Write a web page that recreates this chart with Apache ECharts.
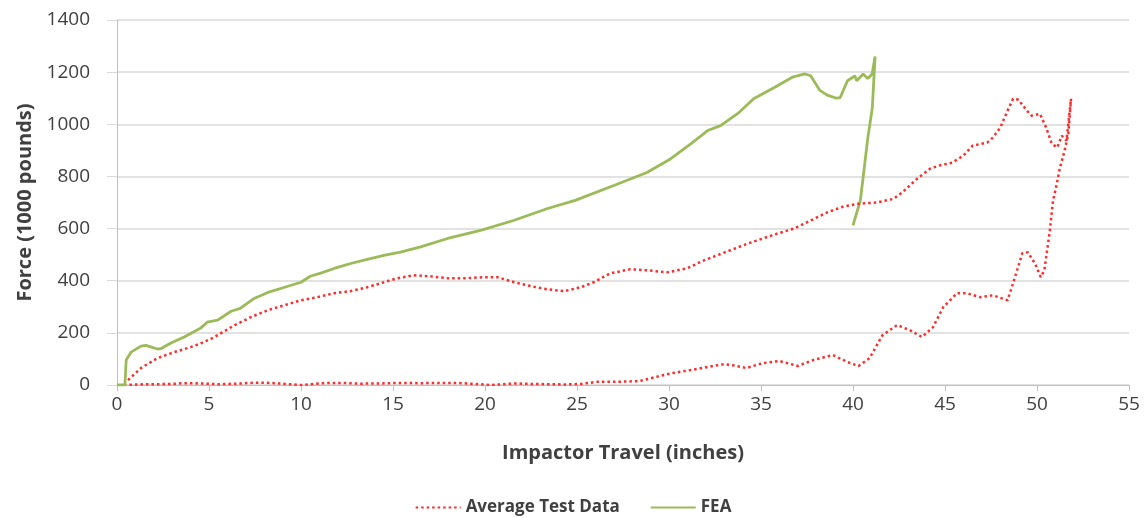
<!DOCTYPE html>
<html>
<head>
<meta charset="utf-8">
<title>Force vs Impactor Travel</title>
<script src="https://cdn.jsdelivr.net/npm/echarts@6/dist/echarts.min.js"></script>
<style>
  html, body { margin: 0; padding: 0; background: #ffffff; }
  #chart { width: 1146px; height: 518px; }
</style>
</head>
<body>
<div id="chart"></div>
<script>
// Axis ranges and tick spacing
const xTicks = { min: 0, max: 55, step: 5 };
const yTicks = { min: 0, max: 1400, step: 200 };

// Average test data: upper branch [inches, kips]
const testUpper = [
  [0.6, 19], [1.3, 65], [2.2, 103], [3.1, 126], [4.0, 145], [4.6, 161], [5.3, 184],
  [6.4, 230], [7.3, 261], [8.2, 287], [9.1, 306], [10, 325], [10.9, 337], [11.8, 352],
  [12.7, 360], [13.6, 375], [14.5, 394], [15.2, 409], [16.1, 421], [17.0, 417],
  [18.0, 409], [18.8, 409], [19.8, 413], [20.7, 413], [21.6, 394], [22.5, 379],
  [23.4, 367], [24.3, 360], [25.2, 375], [25.9, 394], [26.8, 428], [27.9, 444],
  [28.8, 440], [29.9, 432], [31.0, 448], [31.9, 478], [33.3, 516], [34.3, 543],
  [35.1, 562], [35.9, 581], [36.8, 600], [37.7, 631], [38.6, 662], [39.5, 685],
  [40.4, 696], [41.3, 700], [42.2, 714], [42.7, 740], [43.5, 792], [44.2, 830],
  [44.7, 842], [45.4, 853], [46.0, 880], [46.5, 918], [47.3, 930], [47.6, 949],
  [48.0, 987], [48.4, 1052], [48.7, 1098], [49.0, 1094], [49.45, 1052], [49.7, 1033],
  [50.16, 1040], [50.5, 987], [50.8, 926], [51.1, 911], [51.35, 956], [51.6, 937]
];
// Average test data: final steep rise to the peak
const testRise = [
  [50.2, 414], [50.4, 440], [50.7, 593], [50.87, 708], [51.0, 746], [51.25, 834],
  [51.5, 899], [51.7, 964], [51.85, 1098]
];
// Average test data: lower branch
const testLower = [
  [0.5, 0], [1, 2], [2, 3], [3, 4], [3.6, 7], [4.5, 6], [5.5, 3], [6.5, 5], [7.5, 9],
  [8.3, 8], [9.2, 4], [10, 0], [10.8, 5], [11.5, 8], [12.3, 8], [13.2, 5], [14.3, 6],
  [15.3, 8], [16.5, 7], [17.5, 8], [18.5, 8], [19.5, 4], [20.3, 0], [21, 3], [21.6, 6],
  [22.5, 4], [23.5, 3], [24.3, 2], [25.2, 4], [26.1, 12], [27, 12], [28.4, 15],
  [29.3, 31], [30.2, 46], [31.5, 61], [32.4, 73], [33, 80], [33.6, 74], [34.2, 65],
  [35.1, 84], [36, 92], [37, 73], [37.85, 96], [38.9, 115], [39.7, 88], [40.3, 73],
  [40.9, 103], [41.6, 191], [42.4, 230], [43.1, 210], [43.75, 184], [44.35, 222],
  [44.9, 298], [45.65, 352], [46.2, 352], [46.9, 337], [47.6, 344], [48.4, 325],
  [48.7, 390], [49.2, 505], [49.5, 509], [49.9, 465], [50.2, 414]
];

// FEA prediction [inches, kips]
const feaCurve = [
  [0, 0], [0.43, 0], [0.5, 96], [0.76, 126], [1.3, 149], [1.57, 152], [2.2, 138],
  [2.4, 140], [2.93, 161], [3.65, 184], [4.56, 219], [4.9, 241], [5.47, 249],
  [6.2, 283], [6.7, 294], [7.45, 332], [8.2, 355], [9.07, 374], [10, 394], [10.5, 417],
  [11.07, 429], [11.8, 447], [12.7, 466], [13.6, 482], [14.5, 497], [15.4, 510],
  [16.5, 530], [17.97, 562], [19.76, 593], [21.55, 631], [23.4, 677], [24.9, 708],
  [27.0, 765], [28.8, 815], [30.1, 868], [31.2, 926], [32.1, 976], [32.8, 995],
  [33.8, 1045], [34.6, 1098], [35.7, 1140], [36.75, 1182], [37.4, 1193], [37.7, 1186],
  [38.2, 1130], [38.6, 1112], [39.1, 1100], [39.3, 1102], [39.7, 1167], [40.1, 1186],
  [40.2, 1167], [40.55, 1193], [40.8, 1176], [41.04, 1193], [41.2, 1260], [41.05, 1063],
  [40.8, 945], [40.55, 796], [40.4, 708], [40.0, 612]
];

const seriesNames = ['Average Test Data', 'FEA'];

// The test curve is drawn as one closed path: up the upper branch,
// over the peak, down the steep rise and back along the lower branch.
const testPath = testUpper
  .concat([testRise[testRise.length - 1]])
  .concat(testRise.slice(0, -1).reverse())
  .concat(testLower.slice(0, -1).reverse());

const chart = echarts.init(document.getElementById('chart'), null, { renderer: 'canvas' });

const labelFont = 'Open Sans';
const textColor = '#404040';

chart.setOption({
  animation: false,
  backgroundColor: '#ffffff',
  grid: { left: 117, right: 17, top: 20, bottom: 133, containLabel: false },
  xAxis: {
    type: 'value',
    min: xTicks.min, max: xTicks.max, interval: xTicks.step,
    name: 'Impactor Travel (inches)',
    nameLocation: 'middle',
    nameGap: 58,
    nameTextStyle: { fontFamily: labelFont, fontWeight: 'bold', fontSize: 20, color: textColor },
    axisLine: { show: true, lineStyle: { color: '#bfbfbf', width: 1 } },
    axisTick: { show: true, length: 6, lineStyle: { color: '#bfbfbf' } },
    axisLabel: { margin: 10, fontFamily: labelFont, fontSize: 19, color: textColor },
    splitLine: { show: false }
  },
  yAxis: {
    type: 'value',
    min: yTicks.min, max: yTicks.max, interval: yTicks.step,
    name: 'Force (1000 pounds)',
    nameLocation: 'middle',
    nameGap: 79,
    nameRotate: 90,
    nameTextStyle: { fontFamily: labelFont, fontWeight: 'bold', fontSize: 20, color: textColor },
    axisLine: { show: true, lineStyle: { color: '#bfbfbf', width: 1 } },
    axisTick: { show: true, length: 10, lineStyle: { color: '#d9d9d9' } },
    axisLabel: {
      margin: 27, fontFamily: labelFont, fontSize: 19, color: textColor,
      formatter: function (v) { return String(v); }
    },
    splitLine: { show: true, lineStyle: { color: '#d9d9d9', width: 1.5 } }
  },
  legend: {
    top: 494,
    left: 'center',
    itemWidth: 45,
    itemHeight: 10,
    itemGap: 30,
    itemStyle: { opacity: 0 },
    textStyle: { fontFamily: labelFont, fontWeight: 'bold', fontSize: 17, color: textColor },
    data: seriesNames
  },
  series: [
    {
      name: seriesNames[0],
      type: 'line',
      data: testPath,
      showSymbol: false,
      symbol: 'none',
      smooth: false,
      color: '#ff2a2a',
      lineStyle: { color: '#ff2a2a', width: 2.5, type: [2.5, 3] },
      z: 3
    },
    {
      name: seriesNames[1],
      type: 'line',
      data: feaCurve,
      showSymbol: false,
      symbol: 'none',
      smooth: false,
      color: '#9bbb59',
      lineStyle: { color: '#9bbb59', width: 2.8 },
      z: 2
    }
  ]
});
</script>
</body>
</html>
